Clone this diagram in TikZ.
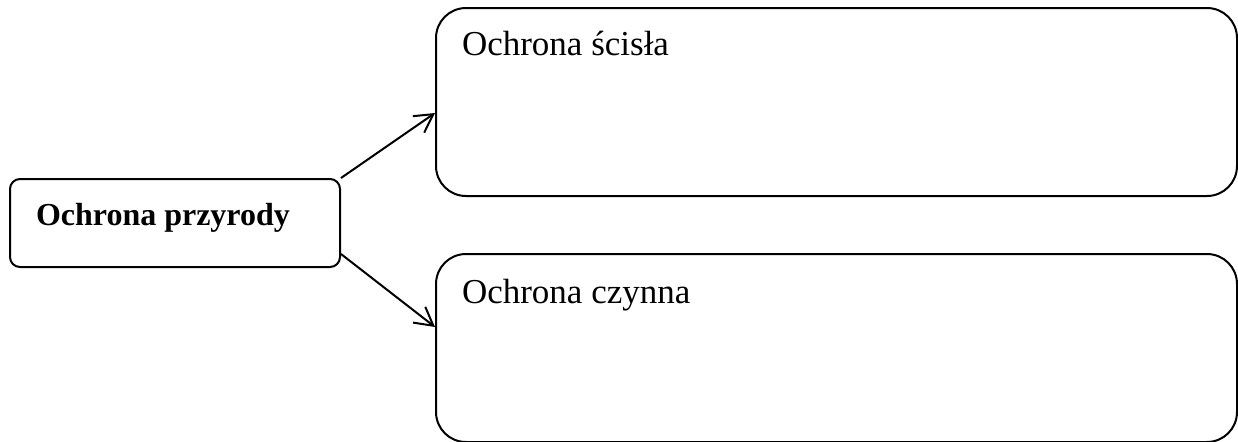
\documentclass[tikz,border=0pt]{standalone}
\usepackage{fontspec}
\setmainfont{Liberation Serif}
\usetikzlibrary{arrows.meta, positioning}
\tikzstyle{scheme}=[x=0.5pt, y=-0.5pt, line width=1pt, >={Straight Barb[length=9pt,width=10pt]}]
\tikzstyle{mainbox}=[draw, rounded corners=5pt, minimum width=165pt, minimum height=44pt, inner sep=0pt]
\tikzstyle{kindbox}=[draw, rounded corners=15pt, minimum width=400.5pt, minimum height=94pt, inner sep=0pt]
\tikzstyle{label}=[anchor=base west, inner sep=0pt, font=\fontsize{17.5pt}{20pt}\selectfont]

\begin{document}
\begin{tikzpicture}[scheme]
  \useasboundingbox (0,0) rectangle (1238,441);
  \node[mainbox] (nature) at (175,223) {};
  \node[kindbox] (strict) at (836.5,102) {};
  \node[kindbox] (active) at (836.5,348) {};
  \node[label, font=\fontsize{16pt}{19pt}\selectfont\bfseries] (natureText) at (35,225) {Ochrona przyrody};
  \node[label] (strictText) at (461,55) {Ochrona ścisła};
  \node[label] (activeText) at (461,303) {Ochrona czynna};
  \path[->] (nature.north east) edge ([yshift=-5.5pt]strict.west);
  \path[->] ([yshift=-38pt]nature.north east) edge ([yshift=10.5pt]active.west);
\end{tikzpicture}
\end{document}
